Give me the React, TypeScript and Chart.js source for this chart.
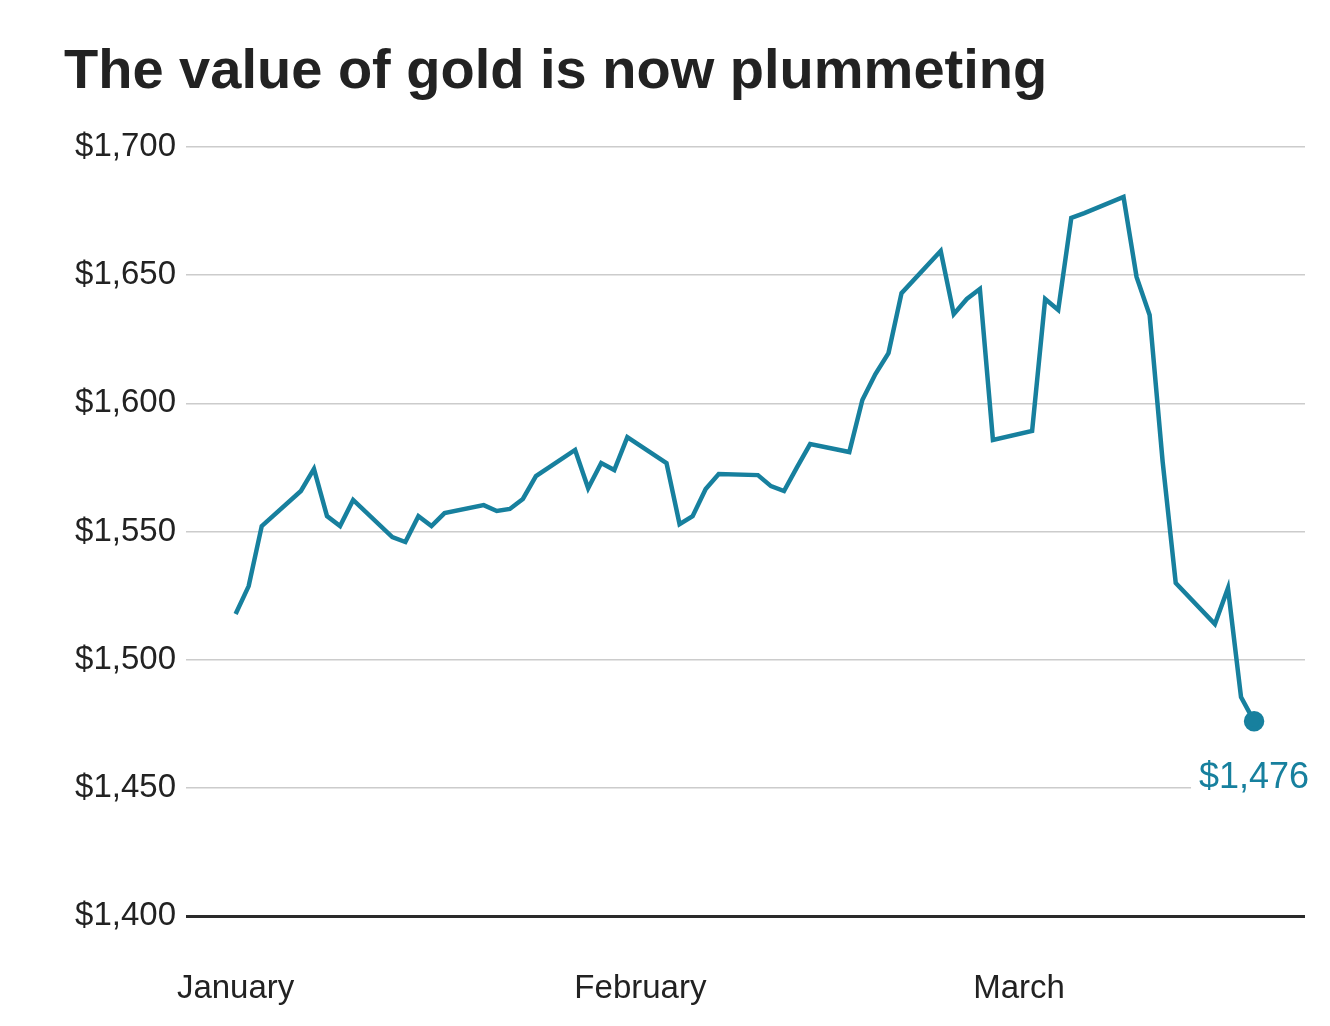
import React, { useEffect, useRef } from "react";
import { Chart, registerables } from "chart.js";
Chart.register(...registerables);

const days = [0,1,2,5,6,7,8,9,12,13,14,15,16,19,20,21,22,23,26,27,28,29,30,33,34,35,36,37,40,41,42,43,44,47,48,49,50,51,54,55,56,57,58,61,62,63,64,65,68,69,70,71,72,75,76,77,78];
const prices = [1517.8,1528.7,1552.1,1565.8,1574.4,1556.0,1552.1,1562.3,1547.8,1545.9,1556.0,1552.1,1557.2,1560.3,1558.0,1558.8,1562.7,1571.6,1581.8,1566.9,1576.7,1574.0,1586.8,1576.7,1552.9,1556.0,1566.6,1572.4,1572.0,1567.7,1565.8,1575.1,1584.1,1581.0,1601.3,1611.4,1619.6,1643.0,1659.4,1634.8,1640.7,1644.6,1585.7,1589.2,1640.7,1636.4,1672.3,1674.2,1680.5,1649.3,1634.5,1577.1,1529.9,1513.9,1527.9,1485.4,1476];
const monthTicks = [0, 31, 60];
const monthLabels = ["January", "February", "March"];
const title = "The value of gold is now plummeting";
const lastLabel = "$1,476";
const COLOR = "#17809e";
const FONT = "'Liberation Sans', Arial, sans-serif";

export default function App() {
  const ref = useRef<HTMLCanvasElement>(null);
  useEffect(() => {
    const last = prices.length - 1;
    const plugin = {
      id: "extras",
      afterDraw(chart: any) {
        const ctx = chart.ctx;
        ctx.save();
        ctx.fillStyle = "#222";
        ctx.font = `bold 56px ${FONT}`;
        ctx.textBaseline = "alphabetic";
        ctx.textAlign = "left";
        ctx.fillText(title, 56, 80);
        const x = chart.scales.x.getPixelForValue(days[last]);
        const y = chart.scales.y.getPixelForValue(prices[last]);
        ctx.font = `36px ${FONT}`;
        ctx.textAlign = "center";
        ctx.textBaseline = "middle";
        const w = ctx.measureText(lastLabel).width;
        ctx.fillStyle = "#fff";
        ctx.fillRect(x - w / 2 - 8, y + 34, w + 16, 44);
        ctx.fillStyle = COLOR;
        ctx.fillText(lastLabel, x, y + 57);
        ctx.restore();
      },
    };
    const chart = new Chart(ref.current!, {
      type: "line",
      data: {
        datasets: [{
          data: days.map((d, i) => ({ x: d, y: prices[i] })),
          borderColor: COLOR,
          backgroundColor: COLOR,
          borderWidth: 4.5,
          pointRadius: (c: any) => (c.dataIndex === last ? 8 : 0),
          pointHoverRadius: 0,
          tension: 0,
        }],
      },
      options: {
        animation: false,
        responsive: false,
        layout: { padding: { top: 139, right: 17, left: 0, bottom: 0 } },
        plugins: { legend: { display: false }, tooltip: { enabled: false }, title: { display: false } },
        scales: {
          x: {
            type: "linear",
            min: -3.8,
            max: 81.9,
            afterFit: (s: any) => { s.height = 102; },
            afterBuildTicks: (s: any) => { s.ticks = monthTicks.map((v) => ({ value: v })); },
            ticks: {
              padding: 45,
              color: "#222",
              font: { family: FONT, size: 33 },
              maxRotation: 0,
              callback: (v: any) => monthLabels[monthTicks.indexOf(Number(v))] ?? "",
            },
            grid: { display: false },
            border: { display: false },
          },
          y: {
            min: 1400,
            max: 1700,
            afterFit: (s: any) => { s.width = 178; },
            ticks: {
              stepSize: 50,
              padding: 10,
              color: "#222",
              font: { family: FONT, size: 33 },
              callback: (v: any) => "$" + Number(v).toLocaleString("en-US"),
            },
            grid: {
              drawTicks: false,
              color: (c: any) => (c.tick && c.tick.value === 1400 ? "#2a2a2a" : "#cccccc"),
              lineWidth: (c: any) => (c.tick && c.tick.value === 1400 ? 3 : 1.5),
            },
            border: { display: false },
          },
        },
      },
      plugins: [plugin],
    } as any);
    return () => chart.destroy();
  }, []);
  return (
    <div style={{ width: 1314, height: 1010 }}>
      <canvas ref={ref} width={1314} height={1010} style={{ width: 1314, height: 1010 }} />
    </div>
  );
}
